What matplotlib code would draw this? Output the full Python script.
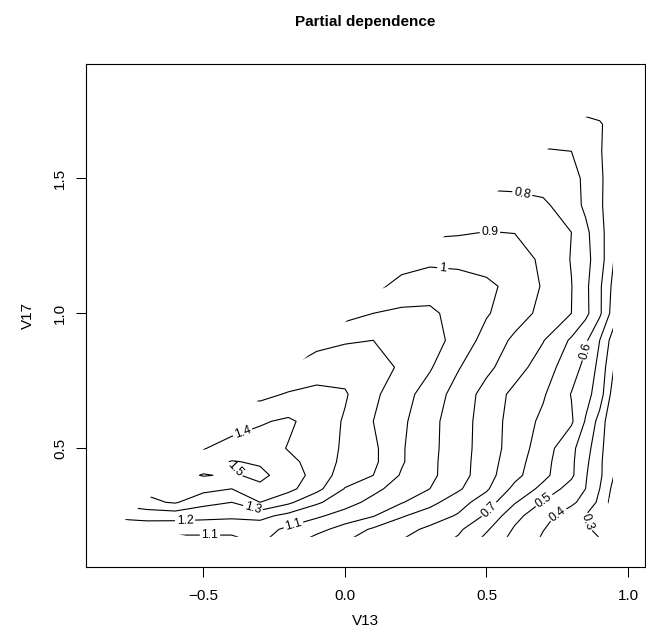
import numpy as np
import matplotlib
matplotlib.use("Agg")
import matplotlib.pyplot as plt
from matplotlib.patches import Polygon

# ---- grid of the partial-dependence surface ----
v13_grid = [-0.8, -0.7, -0.6, -0.5, -0.4, -0.3, -0.2, -0.1, 0.0, 0.1, 0.2, 0.3, 0.4, 0.5, 0.6, 0.7, 0.8, 0.85, 0.9, 0.95]
v17_grid = [0.15, 0.2, 0.25, 0.3, 0.35, 0.4, 0.45, 0.5, 0.6, 0.7, 0.8, 0.9, 1.0, 1.1, 1.2, 1.3, 1.4, 1.5, 1.6, 1.7, 1.8]

pd_y015 = [1.08, 1.09, 1.06, 1.06, 1.06, 1.11, 1.03, 0.945, 0.898, 0.853, 0.79, 0.732, 0.677, 0.557, 0.462, 0.383, 0.346, 0.32, 0.31, 0.22]
pd_y020 = [1.14, 1.15, 1.13, 1.13, 1.13, 1.14, 1.08, 1.032, 0.959, 0.886, 0.834, 0.78, 0.718, 0.613, 0.488, 0.403, 0.344, 0.313, 0.28, 0.22]
pd_y025 = [1.22, 1.23, 1.24, 1.23, 1.22, 1.23, 1.17, 1.115, 1.062, 1.006, 0.91, 0.85, 0.79, 0.685, 0.529, 0.436, 0.347, 0.298, 0.27, 0.21]
pd_y030 = [1.33, 1.38, 1.41, 1.33, 1.30, 1.40, 1.32, 1.216, 1.138, 1.071, 1.007, 0.931, 0.841, 0.748, 0.608, 0.492, 0.42, 0.363, 0.278, 0.15]
pd_y035 = [1.38, 1.42, 1.45, 1.43, 1.40, 1.48, 1.43, 1.33, 1.195, 1.125, 1.056, 1.0, 0.915, 0.814, 0.673, 0.573, 0.456, 0.40, 0.30, 0.17]
pd_y040 = [1.40, 1.42, 1.47, 1.505, 1.49, 1.52, 1.46, 1.36, 1.25, 1.20, 1.09, 1.02, 0.946, 0.837, 0.728, 0.626, 0.519, 0.409, 0.319, 0.20]
pd_y045 = [1.40, 1.42, 1.45, 1.46, 1.505, 1.49, 1.42, 1.37, 1.27, 1.22, 1.11, 1.022, 0.945, 0.845, 0.742, 0.635, 0.52, 0.423, 0.321, 0.20]
pd_y050 = [1.40, 1.42, 1.42, 1.395, 1.44, 1.446, 1.395, 1.37, 1.28, 1.22, 1.11, 1.026, 0.946, 0.852, 0.755, 0.65, 0.525, 0.44, 0.333, 0.20]
pd_y060 = [1.38, 1.38, 1.38, 1.38, 1.35, 1.39, 1.415, 1.36, 1.29, 1.20, 1.12, 1.029, 0.947, 0.856, 0.758, 0.679, 0.614, 0.492, 0.363, 0.20]
pd_y070 = [1.33, 1.33, 1.33, 1.33, 1.29, 1.27, 1.31, 1.33, 1.31, 1.22, 1.14, 1.054, 0.961, 0.864, 0.773, 0.711, 0.596, 0.536, 0.45, 0.25]
pd_y080 = [1.28, 1.28, 1.28, 1.28, 1.25, 1.22, 1.20, 1.243, 1.26, 1.23, 1.19, 1.11, 1.007, 0.923, 0.843, 0.75, 0.642, 0.573, 0.47, 0.30]
pd_y090 = [1.20, 1.20, 1.20, 1.20, 1.18, 1.15, 1.14, 1.17, 1.19, 1.20, 1.17, 1.14, 1.067, 0.962, 0.881, 0.805, 0.686, 0.618, 0.50, 0.35]
pd_y100 = [1.05, 1.05, 1.05, 1.05, 1.05, 1.05, 1.05, 1.05, 1.06, 1.10, 1.12, 1.12, 1.062, 1.009, 0.944, 0.874, 0.80, 0.725, 0.618, 0.45]
pd_y110 = [1.00, 1.00, 1.00, 1.00, 1.00, 1.00, 1.00, 1.00, 1.00, 0.975, 1.03, 1.05, 1.05, 1.02, 0.971, 0.891, 0.803, 0.722, 0.617, 0.47]
pd_y120 = [0.95, 0.95, 0.95, 0.95, 0.95, 0.95, 0.95, 0.95, 0.95, 0.95, 0.96, 0.98, 0.97, 0.96, 0.94, 0.884, 0.795, 0.73, 0.647, 0.50]
pd_y130 = [0.88, 0.88, 0.88, 0.88, 0.88, 0.88, 0.88, 0.88, 0.88, 0.88, 0.88, 0.88, 0.89, 0.902, 0.898, 0.867, 0.80, 0.722, 0.637, 0.52]
pd_y140 = [0.84, 0.84, 0.84, 0.84, 0.84, 0.84, 0.84, 0.84, 0.84, 0.84, 0.84, 0.84, 0.84, 0.85, 0.84, 0.82, 0.742, 0.682, 0.618, 0.53]
pd_y150 = [0.76, 0.76, 0.76, 0.76, 0.76, 0.76, 0.76, 0.76, 0.76, 0.76, 0.76, 0.76, 0.76, 0.76, 0.76, 0.75, 0.73, 0.682, 0.618, 0.54]
pd_y160 = [0.72, 0.72, 0.72, 0.72, 0.72, 0.72, 0.72, 0.72, 0.72, 0.72, 0.72, 0.72, 0.72, 0.72, 0.72, 0.705, 0.70, 0.665, 0.61, 0.54]
pd_y170 = [0.66, 0.66, 0.66, 0.66, 0.66, 0.66, 0.66, 0.66, 0.66, 0.66, 0.66, 0.66, 0.66, 0.66, 0.66, 0.66, 0.65, 0.64, 0.615, 0.54]
pd_y180 = [0.50, 0.50, 0.50, 0.50, 0.50, 0.50, 0.50, 0.50, 0.50, 0.50, 0.50, 0.50, 0.50, 0.50, 0.50, 0.50, 0.50, 0.50, 0.50, 0.50]

# convex hull of the training data (region where the surface is drawn)
hull_v13 = [-0.777, -0.55, 0.90, 0.947, 0.947, 0.915, 0.85, 0.134]
hull_v17 = [0.235, 0.172, 0.172, 0.363, 1.72, 1.748, 1.727, 1.093]

contour_levels = [0.2, 0.3, 0.4, 0.5, 0.6, 0.7, 0.8, 0.9, 1.0, 1.1, 1.2, 1.3, 1.4, 1.5]

# contour label positions
label_levels = [1.5, 1.4, 1.3, 1.2, 1.1, 1.1, 1.0, 0.9, 0.8, 0.7, 0.6, 0.5, 0.4, 0.3]
label_v13 = [-0.378, -0.371, -0.325, -0.565, -0.477, -0.184, 0.346, 0.512, 0.629, 0.512, 0.837, 0.707, 0.753, 0.845]
label_v17 = [0.434, 0.586, 0.279, 0.227, 0.178, 0.223, 1.175, 1.305, 1.457, 0.271, 0.864, 0.301, 0.253, 0.223]

x_ticks = [-0.5, 0.0, 0.5, 1.0]
y_ticks = [0.5, 1.0, 1.5]

# ---------------------------------------------------------------------------
plt.rcParams['font.family'] = ['Liberation Sans', 'DejaVu Sans']

W, H = 646, 644
fig = plt.figure(figsize=(W / 100, H / 100), dpi=100)
ax_l, ax_r, ax_t, ax_b = 86, 645, 64, 567
ax = fig.add_axes([ax_l / W, 1 - ax_b / H, (ax_r - ax_l) / W, (ax_b - ax_t) / H])

Z = np.array([pd_y015, pd_y020, pd_y025, pd_y030, pd_y035, pd_y040, pd_y045, pd_y050,
              pd_y060, pd_y070, pd_y080, pd_y090, pd_y100, pd_y110, pd_y120, pd_y130,
              pd_y140, pd_y150, pd_y160, pd_y170, pd_y180])
XX, YY = np.meshgrid(v13_grid, v17_grid)

cs = ax.contour(XX, YY, Z, levels=contour_levels, colors='black', linewidths=0.8)
hull = Polygon(np.column_stack([hull_v13, hull_v17]), closed=True,
               transform=ax.transData, facecolor='none', edgecolor='none')
ax.add_patch(hull)
cs.set_clip_path(hull)

fmt = lambda v: f"{v:g}"
cs.clabel(fontsize=8.8, inline=True, inline_spacing=3, fmt=fmt, manual=[])
n_lev = len(cs.levels)
for lev, lx, ly in zip(label_levels, label_v13, label_v17):
    i = int(np.argmin(np.abs(np.asarray(cs.levels) - lev)))
    cs.labelIndiceList = [i]
    cs.labelLevelList = [cs.levels[i]] * n_lev
    cs.add_label_near(lx, ly, inline=True, inline_spacing=3)

ax.set_xlim(-0.915, 1.060)
ax.set_ylim(0.0604, 1.9233)
ax.set_xticks(x_ticks)
ax.set_xticklabels(["\u22120.5", "0.0", "0.5", "1.0"])
ax.set_yticks(y_ticks)
ax.set_yticklabels(["0.5", "1.0", "1.5"], rotation=90, va='center')
ax.tick_params(axis='x', pad=9)
ax.tick_params(axis='y', pad=6.5)
ax.tick_params(direction='out', length=7.2, width=0.75, labelsize=11)
for sp in ax.spines.values():
    sp.set_linewidth(0.8)

fig.text((ax_l + ax_r) / 2 / W, 1 - 22 / H, "Partial dependence", ha='center', va='center',
         fontsize=11, fontweight='bold')
fig.text((ax_l + ax_r) / 2 / W, 1 - 621 / H, "V13", ha='center', va='center', fontsize=11)
fig.text(28 / W, 1 - ((ax_t + ax_b) / 2) / H, "V17", ha='center', va='center', rotation=90, fontsize=11)

fig.savefig("out.png", dpi=100)
